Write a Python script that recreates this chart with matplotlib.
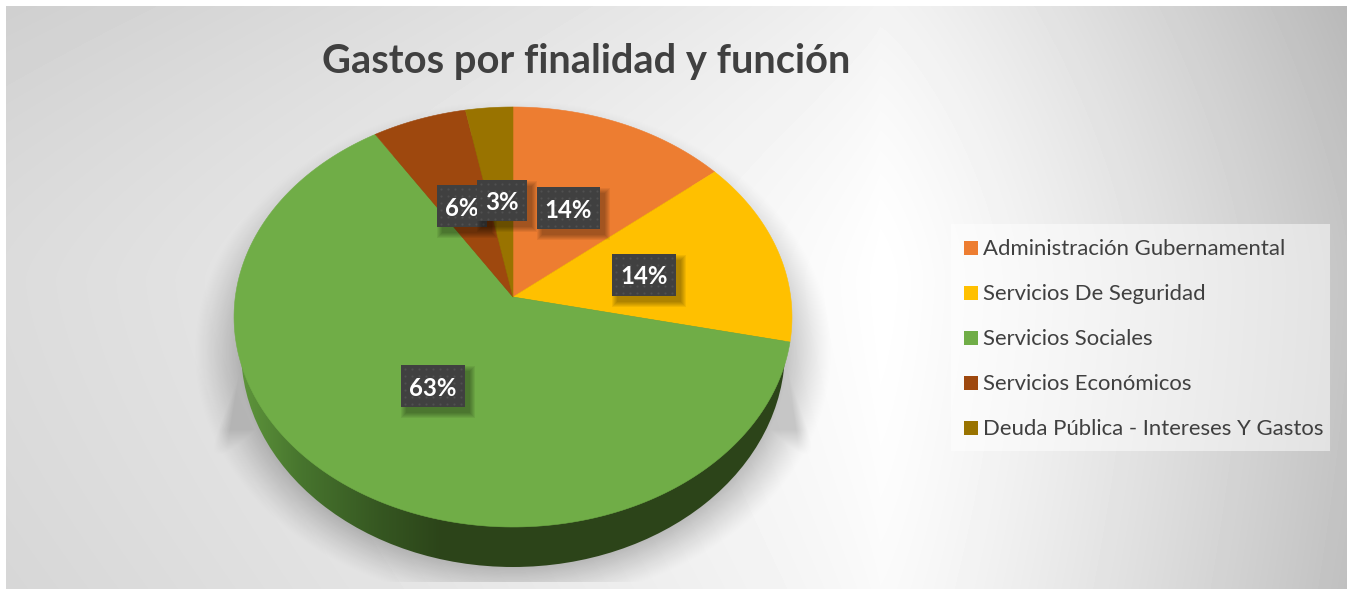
import matplotlib
matplotlib.use('Agg')
import matplotlib.pyplot as plt
from matplotlib.patches import Ellipse, Polygon, Rectangle
import numpy as np

title = 'Gastos por finalidad y función'
categories = ['Administración Gubernamental', 'Servicios De Seguridad', 'Servicios Sociales',
              'Servicios Económicos', 'Deuda Pública - Intereses Y Gastos']
values = [14.0, 14.4, 62.6, 6.0, 3.0]
colors = ['#ED7D31', '#FFC000', '#70AD47', '#9E480E', '#997300']

# where the label boxes sit (left, top, right, bottom in pixels)
label_boxes = [(537, 187, 600, 229), (612, 254, 676, 296), (401, 365, 465, 407),
               (437, 185, 487, 227), (477, 180, 527, 221)]

W, H = 1351, 590
plt.rcParams['font.family'] = ['Lato', 'DejaVu Sans']

# pie seen in perspective: the centre of the circle is not the centre of the ellipse
CX, CY = 513, 297
A, C = 208.1, 0.0952
B = 277.7


def project(theta):
    px = np.sin(theta)
    py = np.cos(theta)
    d = 1 + C * py
    return CX + B * px / d, CY - A * py / d


fig = plt.figure(figsize=(W / 100, H / 100), dpi=100)
ax = fig.add_axes([0, 0, 1, 1])
ax.set_xlim(0, W)
ax.set_ylim(H, 0)
ax.axis('off')
ext = (0, W, H, 0)

# background gradient, white near the right of the pie
xx, yy = np.meshgrid(np.arange(W) + 0.5, np.arange(H) + 0.5)
dl = np.clip(880 - xx, 0, None) / 880
dr = np.clip(xx - 880, 0, None) / 470
dt = np.clip(280 - yy, 0, None) / 280
db = np.clip(yy - 280, 0, None) / 310
bg = 1 - 0.14 * dl ** 0.8 - 0.23 * dr ** 1.25 - 0.05 * dt ** 1.5 - 0.02 * db ** 1.5
bg = np.clip(bg, 0, 1)
# white margin round the chart
bg[(xx < 6) | (xx > 1347) | (yy < 6) | (yy > 589)] = 1
ax.imshow(bg, extent=ext, cmap='gray', vmin=0, vmax=1, aspect='auto', zorder=0)

# soft shadow under the pie
dist = (np.sqrt(((xx - 513) / 272) ** 2 + ((yy - 352) / 215) ** 2) - 1) * 240
sh = np.clip(1 - dist / 42, 0, 1) ** 1.2 * 0.22
edge_l = 237 - (yy - 300) * 21 / 130
edge_r = 795 + (yy - 320) * 15 / 110
fade = np.clip((xx - edge_l) / 14, 0, 1) * np.clip((edge_r - xx) / 14, 0, 1)
side = 0.2 * fade * np.clip((yy - 285) / 50, 0, 1) * np.clip((455 - yy) / 25, 0, 1)
sh = np.maximum(sh, side)
sh[yy > 582] = 0
rgba = np.zeros((H, W, 4))
rgba[..., 3] = sh
ax.imshow(rgba, extent=ext, aspect='auto', zorder=1)

# side wall of the pie
wall_x = [235, 300, 380, 440, 800]
wall_c = np.array([[0.38, 0.60, 0.24], [0.28, 0.46, 0.18], [0.21, 0.34, 0.13],
                   [0.173, 0.27, 0.10], [0.173, 0.27, 0.10]])
wall = np.dstack([np.interp(xx, wall_x, wall_c[:, i]) for i in range(3)])
wall_shape = Ellipse((513, 350), 544, 434, fc='none', ec='none', zorder=2)
ax.add_patch(wall_shape)
im = ax.imshow(wall, extent=ext, aspect='auto', zorder=2)
im.set_clip_path(wall_shape)

# top of the pie, one slice per value
edges = np.cumsum([0] + values) / sum(values) * 2 * np.pi
for i in range(len(values)):
    t = np.linspace(edges[i], edges[i + 1], 200)
    x, y = project(t)
    pts = np.column_stack([np.r_[CX, x], np.r_[CY, y]])
    ax.add_patch(Polygon(pts, closed=True, fc=colors[i], ec=colors[i], lw=0.4, zorder=3))

# data labels
for i in range(len(values)):
    x0, y0, x1, y1 = label_boxes[i]
    z = 4 + i * 0.1
    for k in range(6):
        grow = 5 - k
        ax.add_patch(Rectangle((x0 + 5 - grow, y0 + 6 - grow), x1 - x0 + 2 * grow, y1 - y0 + 2 * grow,
                               fc='black', ec='none', alpha=0.06, zorder=z))
    ax.add_patch(Rectangle((x0, y0), x1 - x0, y1 - y0, fc='#404040', ec='none', zorder=z + 0.01))
    gx, gy = np.meshgrid(np.arange(x0 + 4, x1 - 1, 7.0), np.arange(y0 + 4, y1 - 1, 7.0))
    ax.scatter(gx.ravel(), gy.ravel(), s=2.5, c='#505050', linewidths=0, zorder=z + 0.02)
    ax.text((x0 + x1) / 2, (y0 + y1) / 2 + 2, '%d%%' % round(values[i]), color='white', fontsize=17.3,
            fontweight='bold', ha='center', va='center', zorder=z + 0.03)

# title
ax.text(586.5, 62, title, color='#404040', fontsize=28.7, fontweight='bold', ha='center', va='center', zorder=6)

# legend
ax.add_patch(Rectangle((951, 224), 379, 227, fc='white', ec='none', alpha=0.5, zorder=5))
for i, name in enumerate(categories):
    y = 247 + i * 45
    ax.add_patch(Rectangle((964, y - 6.5), 14, 14, fc=colors[i], ec='none', zorder=6))
    ax.text(983, y + 2, name, color='#404040', fontsize=15.9, ha='left', va='center', zorder=6)

fig.savefig('out.png', dpi=100)
